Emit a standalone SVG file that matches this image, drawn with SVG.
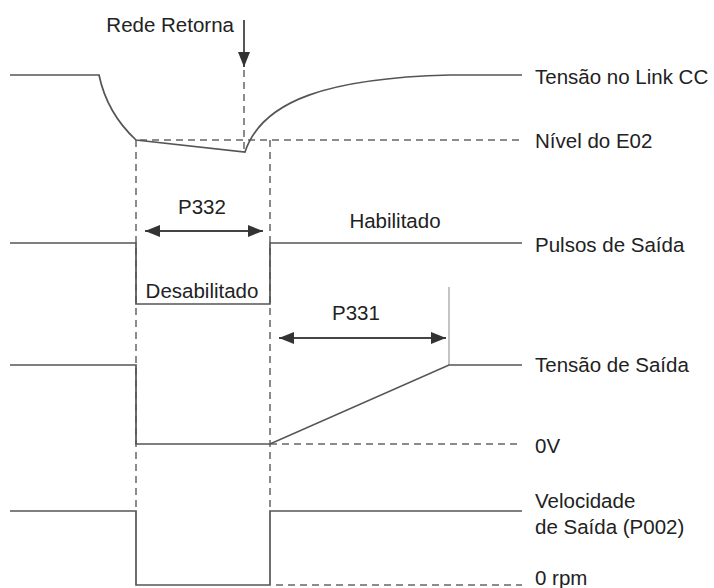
<svg xmlns="http://www.w3.org/2000/svg" width="714" height="588" viewBox="0 0 714 588">
<style>
.w{fill:none;stroke:#555;stroke-width:1.7;stroke-linejoin:miter}
.d{fill:none;stroke:#666;stroke-width:1.5;stroke-dasharray:7 5}
.a{fill:none;stroke:#444;stroke-width:1.8}
.thin{fill:none;stroke:#888;stroke-width:1}
text{font-family:"Liberation Sans",Arial,sans-serif;font-size:20.5px;fill:#222}
.m{text-anchor:middle}
</style>
<defs>
<marker id="ah" viewBox="0 0 15 12" refX="15" refY="6" markerWidth="15" markerHeight="12" markerUnits="userSpaceOnUse" orient="auto-start-reverse">
<path d="M0,0 L15,6 L0,12 Z" fill="#333"/>
</marker>
</defs>
<rect width="714" height="588" fill="#fff"/>
<g id="connectors">
<line class="d" x1="136" y1="140" x2="136" y2="511"/>
<line class="d" x1="270" y1="140" x2="270" y2="511"/>
<line class="d" x1="244" y1="70" x2="244" y2="150"/>
<line class="d" x1="140" y1="140" x2="522" y2="140"/>
<line class="d" x1="270" y1="444" x2="522" y2="444"/>
<line class="d" x1="276" y1="585" x2="522" y2="585"/>
<line class="a" x1="244" y1="20" x2="244" y2="67" marker-end="url(#ah)"/>
<line class="a" x1="145" y1="231" x2="263" y2="231" marker-start="url(#ah)" marker-end="url(#ah)"/>
<line class="a" x1="279" y1="338" x2="446" y2="338" marker-start="url(#ah)" marker-end="url(#ah)"/>
<line class="thin" x1="449" y1="287" x2="449" y2="365"/>
</g>
<g id="rede-retorna">
<text x="234" y="32" text-anchor="end">Rede Retorna</text>
</g>
<g id="tensao-link-cc">
<path class="w" d="M10,75 L99,75 Q107,113 136,140 L245,152 C262,100 330,78 450,75 L522,75"/>
<text x="535" y="84">Tensão no Link CC</text>
</g>
<g id="nivel-e02">
<text x="535" y="148">Nível do E02</text>
</g>
<g id="pulsos-saida">
<path class="w" d="M10,243 L136,243 L136,304 L270,304 L270,243 L522,243"/>
<text x="535" y="252">Pulsos de Saída</text>
<text class="m" x="202" y="214">P332</text>
<text class="m" x="202" y="298">Desabilitado</text>
<text class="m" x="395" y="228">Habilitado</text>
</g>
<g id="tensao-saida">
<path class="w" d="M10,365 L136,365 L136,444 L270,444 L449,365 L522,365"/>
<text x="535" y="372">Tensão de Saída</text>
<text class="m" x="356" y="320">P331</text>
<text x="535" y="453">0V</text>
</g>
<g id="velocidade-saida">
<path class="w" d="M10,511 L136,511 L136,585 L270,585 L270,511 L522,511"/>
<text x="535" y="508">Velocidade</text>
<text x="535" y="534">de Saída (P002)</text>
<text x="535" y="585">0 rpm</text>
</g>
</svg>
